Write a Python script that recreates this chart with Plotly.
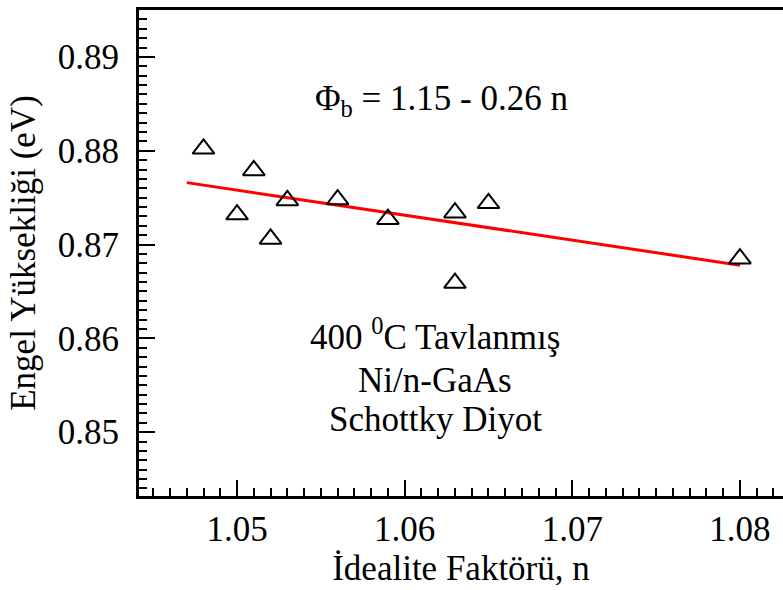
import plotly.graph_objects as go

# Data
ideality_n = [1.048, 1.050, 1.051, 1.052, 1.053, 1.056, 1.059, 1.063, 1.063, 1.065, 1.080]
barrier_eV = [0.8802, 0.8732, 0.8779, 0.8706, 0.8747, 0.8748, 0.8727, 0.8734, 0.8659, 0.8744, 0.8685]

fit_n = [1.047, 1.080]
fit_eV = [0.8766, 0.8678]

x_ticks = [1.05, 1.06, 1.07, 1.08]
y_ticks = [0.85, 0.86, 0.87, 0.88, 0.89]

note_lines = ["400 <sup>0</sup>C Tavlanmış", "Ni/n-GaAs", "Schottky Diyot"]

FONT = "'Times New Roman', 'Liberation Serif', 'DejaVu Serif', serif"
FS = 35

fig = go.Figure()
fig.add_trace(go.Scatter(
    x=fit_n, y=fit_eV, mode="lines",
    line=dict(color="#ff0000", width=3), showlegend=False,
))
fig.add_trace(go.Scatter(
    x=ideality_n, y=barrier_eV, mode="markers",
    marker=dict(symbol="triangle-up-open", size=19, color="black",
                line=dict(width=2, color="black")),
    showlegend=False,
))

fig.add_annotation(
    x=0.47, y=0.862, xref="paper", yref="paper",
    text="Φ<sub>b</sub> = 1.15 - 0.26 n", showarrow=False,
    font=dict(family=FONT, size=FS, color="black"),
)
for text, yp in zip(note_lines, [0.281, 0.1935, 0.113]):
    fig.add_annotation(
        x=0.46, y=yp, xref="paper", yref="paper",
        text=text, showarrow=False, align="center",
        font=dict(family=FONT, size=FS, color="black"),
    )

fig.update_layout(
    width=783, height=590,
    margin=dict(l=139, r=0, t=10, b=94),
    paper_bgcolor="white", plot_bgcolor="white",
    font=dict(family=FONT, size=FS, color="black"),
    xaxis=dict(
        range=[1.04415, 1.08257], tickvals=x_ticks,
        ticktext=[f"{v:.2f}" for v in x_ticks],
        ticks="inside", ticklen=16, tickwidth=2, tickcolor="black",
        minor=dict(dtick=0.001, ticks="inside", ticklen=8, tickwidth=2, tickcolor="black"),
        showline=True, linewidth=3, linecolor="black", mirror=True,
        showgrid=False, zeroline=False, ticklabelstandoff=0,
        tickfont=dict(family=FONT, size=FS),
        title=dict(text="İdealite Faktörü, n", standoff=7,
                   font=dict(family=FONT, size=FS)),
    ),
    yaxis=dict(
        range=[0.8432, 0.895], tickvals=y_ticks,
        ticktext=[f"{v:.2f}" for v in y_ticks],
        ticks="inside", ticklen=16, tickwidth=2, tickcolor="black",
        minor=dict(dtick=0.001, ticks="inside", ticklen=8, tickwidth=2, tickcolor="black"),
        showline=True, linewidth=3, linecolor="black", mirror=False,
        showgrid=False, zeroline=False, ticklabelstandoff=10,
        tickfont=dict(family=FONT, size=FS),
        title=dict(text="Engel Yüksekliği (eV)", standoff=12,
                   font=dict(family=FONT, size=FS)),
    ),
)

fig.write_html("out.html")
